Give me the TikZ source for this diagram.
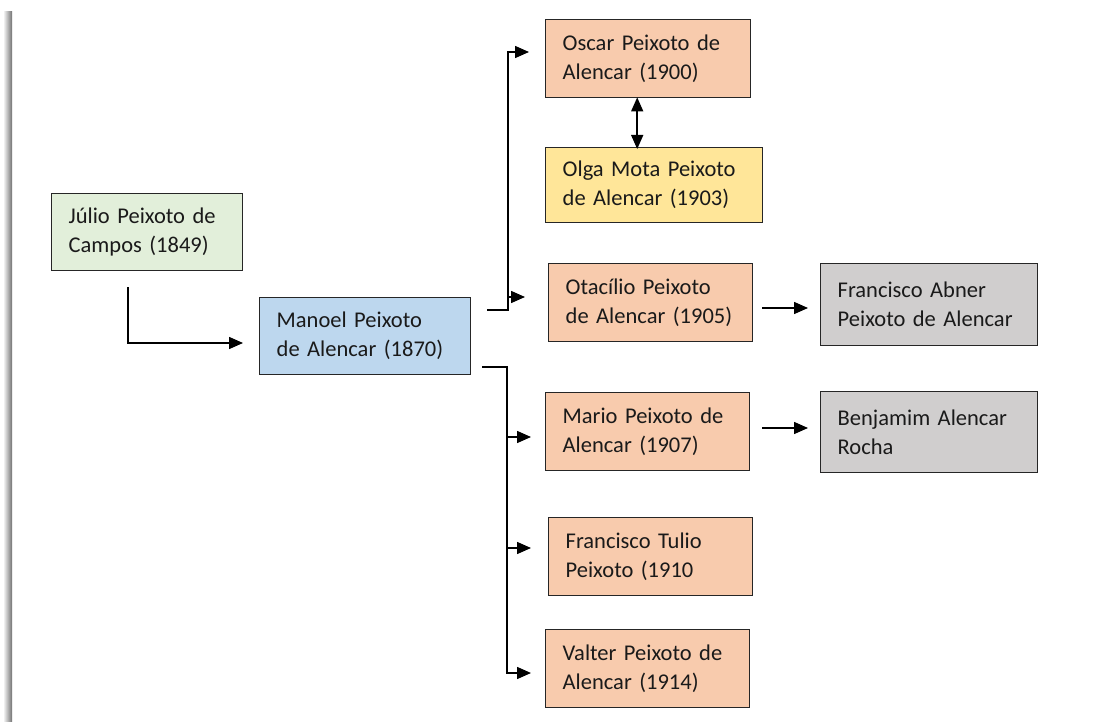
\documentclass[tikz,border=0pt]{standalone}
\usepackage{fontspec}
\setmainfont{Carlito}
\usetikzlibrary{arrows.meta,positioning}
\definecolor{cgreen}{HTML}{E2EFDA}
\definecolor{cblue}{HTML}{BDD7EE}
\definecolor{corange}{HTML}{F8CBAD}
\definecolor{cyellow}{HTML}{FFE699}
\definecolor{cgray}{HTML}{D0CECE}
\definecolor{cborder}{HTML}{262626}
\definecolor{ctext}{HTML}{1A1A1A}
\tikzset{
  box/.style={draw=cborder, line width=1.4pt, anchor=north west, align=left,
    inner xsep=17pt, inner ysep=0pt, text=ctext,
    font=\fontsize{22.5}{29}\selectfont},
  tip/.tip={Triangle[length=14pt,width=12pt]},
  arr/.style={line width=1.5pt, draw=black, -tip},
  darr/.style={line width=1.5pt, draw=black, tip-tip}
}
\begin{document}
\begin{tikzpicture}[x=1pt,y=-1pt]
\useasboundingbox (0,0) rectangle (1116,722);
\fill[white] (0,0) rectangle (1116,722);
% page shadow on left
\shade[left color=white, right color=black!55] (3,12) rectangle (12,722);
% boxes
\node[box, fill=cgreen, text width=157pt, minimum height=77pt] (julio) at (51,193) {Júlio Peixoto de\\Campos (1849)};
\node[box, fill=cblue, text width=177pt, minimum height=77pt] (manoel) at (259,297) {Manoel Peixoto\\de Alencar (1870)};
\node[box, fill=corange, text width=171pt, minimum height=78pt] (oscar) at (545,19) {Oscar Peixoto de\\Alencar (1900)};
\node[box, fill=cyellow, text width=183pt, minimum height=75pt] (olga) at (545,147) {Olga Mota Peixoto\\de Alencar (1903)};
\node[box, fill=corange, text width=170pt, minimum height=78pt] (otacilio) at (548,263) {Otacílio Peixoto\\de Alencar (1905)};
\node[box, fill=cgray, text width=183pt, minimum height=82pt] (abner) at (820,263) {Francisco Abner\\Peixoto de Alencar};
\node[box, fill=corange, text width=170pt, minimum height=78pt] (mario) at (545,392) {Mario Peixoto de\\Alencar (1907)};
\node[box, fill=cgray, text width=183pt, minimum height=81pt] (benjamim) at (820,391) {Benjamim Alencar\\Rocha};
\node[box, fill=corange, text width=170pt, minimum height=78pt] (tulio) at (548,517) {Francisco Tulio\\Peixoto (1910};
\node[box, fill=corange, text width=170pt, minimum height=78pt] (valter) at (545,629) {Valter Peixoto de\\Alencar (1914)};
% connector coordinates
\coordinate (j0) at (128,287);
\coordinate (j1) at (243,343);
\coordinate (u0) at (487,310);
\coordinate (ux) at (508,310);
\coordinate (uo) at (529,52);
\coordinate (ub) at (508,297);
\coordinate (ut) at (525,297);
\coordinate (l0) at (482,367);
\coordinate (lx) at (507,367);
\coordinate (lm) at (531,437);
\coordinate (lt) at (531,548);
\coordinate (lv) at (531,673);
\coordinate (o0) at (762,308);
\coordinate (o1) at (808,308);
\coordinate (m0) at (762,428);
\coordinate (m1) at (808,428);
% connectors
\draw[arr] (j0) |- (j1);
\draw[arr] (u0) -| (ux) |- (uo);
\draw[arr] (ub) -- (ut);
\draw[arr] (l0) -| (lx) |- (lv);
\draw[arr] (lx |- lm) -- (lm);
\draw[arr] (lx |- lt) -- (lt);
\draw[arr] (o0) -- (o1);
\draw[arr] (m0) -- (m1);
\draw[darr] ([xshift=-11pt,yshift=1pt]oscar.south) -- ([xshift=-11pt,yshift=-2pt]olga.north -| oscar.south);
\end{tikzpicture}
\end{document}
